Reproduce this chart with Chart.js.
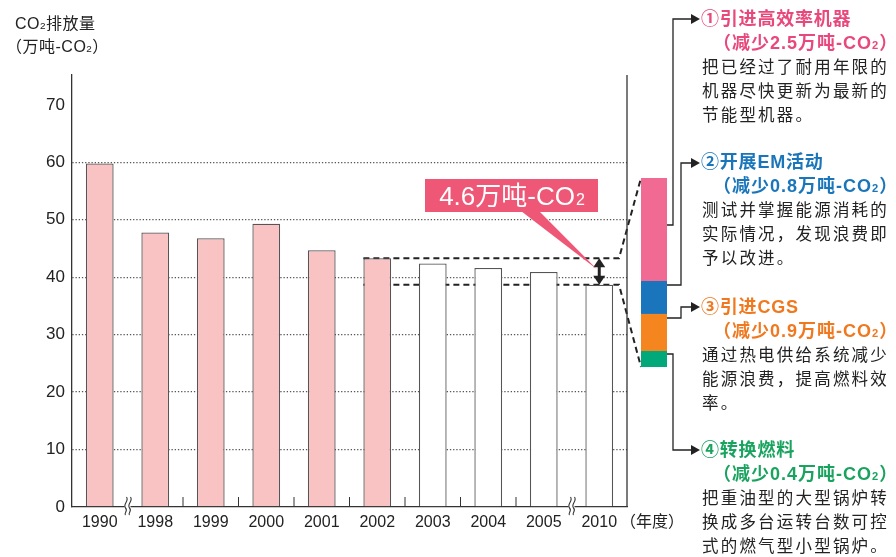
<!DOCTYPE html>
<html>
<head>
<meta charset="utf-8">
<script src="https://cdn.jsdelivr.net/npm/chart.js@4"></script>
<style>
  body { margin: 0; background: #fff; }
  #wrap { position: relative; width: 896px; height: 557px; overflow: hidden;
          font-family: "Liberation Sans", "Noto Sans CJK SC", sans-serif; color: #222; }
  #main { position: absolute; left: 0; top: 0; }
  #cut { position: absolute; left: 641px; top: 178px; }
  .t { position: absolute; white-space: nowrap; }
  .s2 { font-size: 0.62em; }
  .axis-title { font-size: 16px; line-height: 23px; letter-spacing: 0.5px; }
  .block { position: absolute; left: 701px; white-space: nowrap; }
  .block div { height: 24px; line-height: 24px; }
  .block .hd { font-size: 18px; font-weight: bold; letter-spacing: 0.8px; }
  .block .amt { font-size: 18px; font-weight: bold; letter-spacing: 1px; padding-left: 12px; }
  .block .txt { font-size: 16.5px; letter-spacing: 2.2px; padding-left: 1px; color: #222; }
</style>
</head>
<body>
<div id="wrap">
  <canvas id="main" width="896" height="557"></canvas>
  <canvas id="cut" width="26" height="189"></canvas>

  <div class="t axis-title" style="left:15px; top:12px;">CO<span class="s2">2</span>排放量</div>
  <div class="t axis-title" style="left:6px; top:35px;">（万吨-CO<span class="s2">2</span>）</div>
  <div class="t" style="left:620px; top:512px; font-size:16px; line-height:20px;">（年度）</div>

  <div id="notes"></div>
</div>

<script>
// 年度排放量（万吨-CO2）
const years = ['1990', '1998', '1999', '2000', '2001', '2002', '2003', '2004', '2005', '2010']
const emissions = [59.8, 47.8, 46.8, 49.3, 44.7, 43.3, 42.4, 41.6, 40.9, 38.7]
const lastActual = 5   // 2002年为止是实绩，之后是预测
const yTicks = [0, 10, 20, 30, 40, 50, 60, 70]

// 各项措施的减排量
const measures = ['①引进高效率机器', '②开展EM活动', '③引进CGS', '④转换燃料']
const reductions = [2.5, 0.8, 0.9, 0.4]
const notes = [
    ['把已经过了耐用年限的', '机器尽快更新为最新的', '节能型机器。'],
    ['测试并掌握能源消耗的', '实际情况，发现浪费即', '予以改进。'],
    ['通过热电供给系统减少', '能源浪费，提高燃料效', '率。'],
    ['把重油型的大型锅炉转', '换成多台运转台数可控', '式的燃气型小型锅炉。']
]

const barColors = ['#f06a93', '#1b75bc', '#f5861f', '#00a87a']
const textColors = ['#e8487b', '#1a76bb', '#f0781e', '#1aa35f']
const noteTops = [7, 150, 295, 438]
const totalCut = reductions.reduce((a, b) => a + b, 0)

// 右侧说明文字
const box = document.getElementById('notes')
measures.forEach((m, i) => {
    const d = document.createElement('div')
    d.className = 'block'
    d.style.top = noteTops[i] + 'px'
    let html = '<div class="hd" style="color:' + textColors[i] + '">' + m + '</div>'
    html += '<div class="amt" style="color:' + textColors[i] + '">（减少' + reductions[i].toFixed(1) +
        '万吨-CO<span class="s2">2</span>）</div>'
    notes[i].forEach(line => { html += '<div class="txt">' + line + '</div>' })
    d.innerHTML = html
    box.appendChild(d)
})

const cutCanvas = document.getElementById('cut')

function arrowHead(ctx, x, y, dir) {
    // dir: 'r' 向右, 'u' 向上, 'd' 向下
    ctx.beginPath()
    if (dir === 'r') { ctx.moveTo(x, y); ctx.lineTo(x - 9, y - 5); ctx.lineTo(x - 9, y + 5) }
    if (dir === 'u') { ctx.moveTo(x, y); ctx.lineTo(x - 6, y + 9); ctx.lineTo(x + 6, y + 9) }
    if (dir === 'd') { ctx.moveTo(x, y); ctx.lineTo(x - 6, y - 9); ctx.lineTo(x + 6, y - 9) }
    ctx.closePath()
    ctx.fill()
}

function breakMark(ctx, x, y) {
    ctx.fillStyle = '#fff'
    ctx.fillRect(x - 3, y - 3, 6, 6)
    ctx.strokeStyle = '#333'
    ctx.lineWidth = 1.1
    for (const dx of [-2, 2]) {
        const x0 = x + dx
        ctx.beginPath()
        ctx.moveTo(x0 + 1, y - 10)
        ctx.bezierCurveTo(x0 + 4, y - 6, x0 - 3, y - 3, x0, y + 1)
        ctx.bezierCurveTo(x0 + 3, y + 4, x0 - 2, y + 6, x0, y + 8)
        ctx.stroke()
    }
}

const decor = {
    id: 'decor',
    beforeDatasetsDraw(chart) {
        const { ctx, scales: { y }, chartArea } = chart
        const bars = chart.getDatasetMeta(0).data
        const xs = bars[5].x - bars[5].width / 2
        const xe = chartArea.right - 8
        const cx = cutCanvas.offsetLeft
        const yHi = y.getPixelForValue(emissions[5])
        const yLo = y.getPixelForValue(emissions[9])

        ctx.save()
        ctx.setLineDash([6, 4])
        ctx.lineWidth = 2
        ctx.strokeStyle = '#222'
        ctx.beginPath()
        ctx.moveTo(xs, yHi); ctx.lineTo(xe, yHi); ctx.lineTo(cx, cutCanvas.offsetTop)
        ctx.stroke()
        ctx.beginPath()
        ctx.moveTo(xs, yLo); ctx.lineTo(xe, yLo); ctx.lineTo(cx, cutCanvas.offsetTop + cutCanvas.height)
        ctx.stroke()
        ctx.restore()
    },
    afterDatasetsDraw(chart) {
        const { ctx, scales: { x, y }, chartArea } = chart
        ctx.save()

        // 右侧边框
        ctx.strokeStyle = '#333'
        ctx.lineWidth = 1.3
        ctx.beginPath()
        ctx.moveTo(chartArea.right, chartArea.top)
        ctx.lineTo(chartArea.right, chartArea.bottom)
        ctx.stroke()

        // 类别之间的刻度
        const mid = i => (x.getPixelForValue(i - 1) + x.getPixelForValue(i)) / 2
        ctx.lineWidth = 1
        for (let i = 2; i <= 8; i++) {
            ctx.beginPath()
            ctx.moveTo(mid(i), chartArea.bottom)
            ctx.lineTo(mid(i), chartArea.bottom - 10)
            ctx.stroke()
        }
        breakMark(ctx, mid(1), chartArea.bottom)
        breakMark(ctx, mid(9), chartArea.bottom)

        // 2002 → 2010 的差值箭头
        const bars = chart.getDatasetMeta(0).data
        const ax = bars[9].x
        const yHi = y.getPixelForValue(emissions[5])
        const yLo = y.getPixelForValue(emissions[9])
        ctx.fillStyle = '#222'
        ctx.strokeStyle = '#222'
        ctx.lineWidth = 3
        ctx.beginPath()
        ctx.moveTo(ax, yHi + 6); ctx.lineTo(ax, yLo - 6)
        ctx.stroke()
        arrowHead(ctx, ax, yHi, 'u')
        arrowHead(ctx, ax, yLo, 'd')

        // 标注框
        const bx = 425, by = 179, bw = 173, bh = 33
        ctx.fillStyle = '#ee5876'
        ctx.beginPath()
        ctx.moveTo(521, by + bh - 1)
        ctx.lineTo(539, by + bh - 1)
        ctx.lineTo(ax - 2, (yHi + yLo) / 2 - 2)
        ctx.closePath()
        ctx.fill()
        ctx.fillRect(bx, by, bw, bh)

        const main = totalCut.toFixed(1) + '万吨-CO'
        ctx.font = '26px "Liberation Sans", "Noto Sans CJK SC", sans-serif'
        const w1 = ctx.measureText(main).width
        ctx.font = '16px "Liberation Sans", sans-serif'
        const w2 = ctx.measureText('2').width
        const tx = bx + (bw - w1 - w2) / 2
        ctx.fillStyle = '#fff'
        ctx.textBaseline = 'alphabetic'
        ctx.font = '26px "Liberation Sans", "Noto Sans CJK SC", sans-serif'
        ctx.fillText(main, tx, 205)
        ctx.font = '16px "Liberation Sans", sans-serif'
        ctx.fillText('2', tx + w1 + 1, 205)

        // 连接说明文字的引线
        const links = [
            [225, 673, 19],
            [285, 681, 163],
            [318, 681, 307],
            [354, 673, 450]
        ]
        const rx = cutCanvas.offsetLeft + cutCanvas.width
        ctx.strokeStyle = '#222'
        ctx.fillStyle = '#222'
        ctx.lineWidth = 1.3
        links.forEach(([y0, vx, y1]) => {
            ctx.beginPath()
            ctx.moveTo(rx, y0); ctx.lineTo(vx, y0); ctx.lineTo(vx, y1); ctx.lineTo(692, y1)
            ctx.stroke()
            arrowHead(ctx, 700, y1, 'r')
        })

        ctx.restore()
    }
}

new Chart(document.getElementById('main'), {
    type: 'bar',
    data: {
        labels: years,
        datasets: [{
            data: emissions,
            backgroundColor: emissions.map((v, i) => i <= lastActual ? '#f9c2c3' : '#ffffff'),
            borderColor: '#555',
            borderWidth: 1.3,
            barPercentage: 0.5,
            categoryPercentage: 1
        }]
    },
    options: {
        responsive: false,
        animation: false,
        events: [],
        layout: { padding: { left: 0, top: 75, right: 269, bottom: 0 } },
        plugins: { legend: { display: false }, tooltip: { enabled: false } },
        scales: {
            x: {
                grid: { display: false, drawTicks: false },
                border: { color: '#333', width: 1.3 },
                ticks: { color: '#222', font: { size: 16, family: '"Liberation Sans", sans-serif' },
                         padding: 6, maxRotation: 0, autoSkip: false },
                afterFit(s) { s.height = 50 }
            },
            y: {
                min: 0,
                max: 75.2,
                afterBuildTicks(s) { s.ticks = yTicks.map(v => ({ value: v })) },
                ticks: { color: '#222', font: { size: 17, family: '"Liberation Sans", sans-serif' }, padding: 7 },
                grid: {
                    drawTicks: false,
                    lineWidth: 1.3,
                    color: c => (c.tick && (c.tick.value === 0 || c.tick.value === 70)) ? 'rgba(0,0,0,0)' : '#555'
                },
                border: { color: '#333', width: 1.3, dash: [1.3, 1.9] },
                afterFit(s) { s.width = 72 }
            }
        }
    },
    plugins: [decor]
})

// 减排量构成（上→下：①②③④）
new Chart(cutCanvas, {
    type: 'bar',
    data: {
        labels: [''],
        datasets: measures.map((m, i) => ({
            label: m,
            data: [reductions[i]],
            backgroundColor: barColors[i],
            borderWidth: 0,
            barPercentage: 1,
            categoryPercentage: 1
        }))
    },
    options: {
        responsive: false,
        animation: false,
        events: [],
        layout: { padding: 0 },
        plugins: { legend: { display: false }, tooltip: { enabled: false } },
        scales: {
            x: { display: false, stacked: true },
            y: { display: false, stacked: true, min: 0, max: totalCut, reverse: true }
        }
    }
})
</script>
</body>
</html>
